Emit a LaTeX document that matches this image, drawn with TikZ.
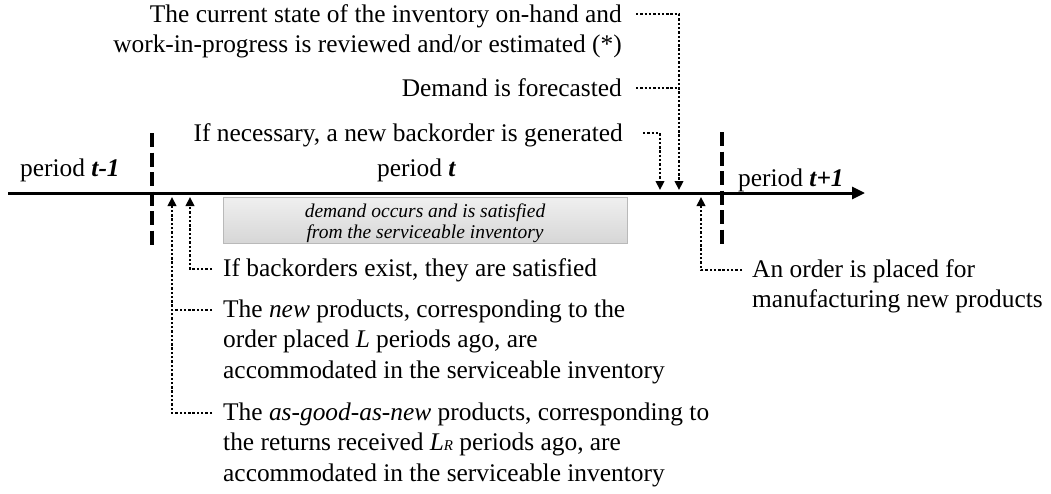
\documentclass[tikz,border=0pt]{standalone}
\usepackage{fontspec}
\setmainfont{Liberation Serif}
\usetikzlibrary{arrows.meta,calc}
\tikzset{
  txt/.style={inner sep=0pt, font=\fontsize{25.4}{30.5}\selectfont},
  dotline/.style={line width=2.6pt, dash pattern=on 2.4pt off 1.9pt},
  dotarrow/.style={dotline, -{Triangle[length=9pt,width=8.5pt]}},
  sepline/.style={line width=3.5pt, dash pattern=on 14pt off 5.5pt},
  axisline/.style={line width=3pt, -{Triangle[length=13pt,width=12pt]}},
  graybox/.style={draw=gray!55, line width=0.8pt, top color=gray!12, bottom color=gray!32,
    minimum width=404pt, minimum height=46pt, inner sep=0pt},
  boxtext/.style={inner sep=0pt, align=center, font=\fontsize{19.5}{20.5}\selectfont\itshape},
}
\begin{document}
\begin{tikzpicture}[x=1pt,y=-1pt]
\useasboundingbox (0,0) rectangle (1051,493);
% gray box
\node[graybox] (box) at (425,220) {};
\node[boxtext] (boxt) at ([yshift=-3pt]box.center) {demand occurs and is satisfied\\from the serviceable inventory};
% axis
\coordinate (ax0) at (8,193);
\coordinate (ax1) at (865,193);
\draw[axisline] (ax0) -- (ax1);
% period separators
\coordinate (s1a) at (152,133); \coordinate (s1b) at (152,245);
\coordinate (s2a) at (722,132); \coordinate (s2b) at (722,244);
\draw[sepline] (s1a) -- (s1b);
\draw[sepline] (s2a) -- (s2b);
% period labels
\node[txt, anchor=base west] (pA) at (20,176) {period \textbf{\textit{t-1}}};
\node[txt, anchor=base west] (pB) at (377,176) {period \textbf{\textit{t}}};
\node[txt, anchor=base west] (pC) at (738,186) {period \textbf{\textit{t+1}}};
% top texts (anchor = baseline of the last line)
\node[txt, align=right, anchor=base east] (tTop) at (622,52.5) {The current state of the inventory on-hand and\\work-in-progress is reviewed and/or estimated (*)};
\node[txt, anchor=base east] (tDem) at (622,96) {Demand is forecasted};
\node[txt, anchor=base east] (tNec) at (623,141) {If necessary, a new backorder is generated};
% bottom texts
\node[txt, anchor=base west] (tBack) at (223,276) {If backorders exist, they are satisfied};
\node[txt, align=left, anchor=base west] (tNew) at (223,378) {The \textit{new} products, corresponding to the\\order placed \textit{L} periods ago, are\\accommodated in the serviceable inventory};
\node[txt, align=left, anchor=base west] (tGood) at (223,481) {The \textit{as-good-as-new} products, corresponding to\\the returns received \textit{L}{\fontsize{15}{15}\selectfont\textit{R}} periods ago, are\\accommodated in the serviceable inventory};
\node[txt, align=left, anchor=base west] (tOrder) at (752,307.5) {An order is placed for\\manufacturing new products};
% arrow targets on the axis
\coordinate (pTop) at (679,190);
\coordinate (pNec) at (660,190);
\coordinate (pBack) at (190,197);
\coordinate (pNew) at (172,197);
\coordinate (pOrder) at (701,197);
% top connectors
\coordinate (lTop) at ([xshift=14pt,yshift=38.5pt]tTop.base east);
\coordinate (lDem) at ([xshift=14pt,yshift=8pt]tDem.base east);
\coordinate (lNec) at ([xshift=20pt,yshift=8pt]tNec.base east);
\draw[dotarrow] (lTop) -| (pTop);
\draw[dotline] (lDem) -- (lDem -| pTop);
\draw[dotarrow] (lNec) -| (pNec);
% bottom connectors
\coordinate (lBack) at ([xshift=-11pt,yshift=7pt]tBack.base west);
\coordinate (lNew) at ([xshift=-11pt,yshift=68pt]tNew.base west);
\coordinate (lGood) at ([xshift=-11pt,yshift=68pt]tGood.base west);
\coordinate (lOrder) at ([xshift=-10pt,yshift=37.5pt]tOrder.base west);
\draw[dotarrow] (lBack) -| (pBack);
\draw[dotarrow] (lGood) -| (pNew);
\draw[dotline] (lNew) -- (lNew -| pNew);
\draw[dotarrow] (lOrder) -| (pOrder);
\end{tikzpicture}
\end{document}
